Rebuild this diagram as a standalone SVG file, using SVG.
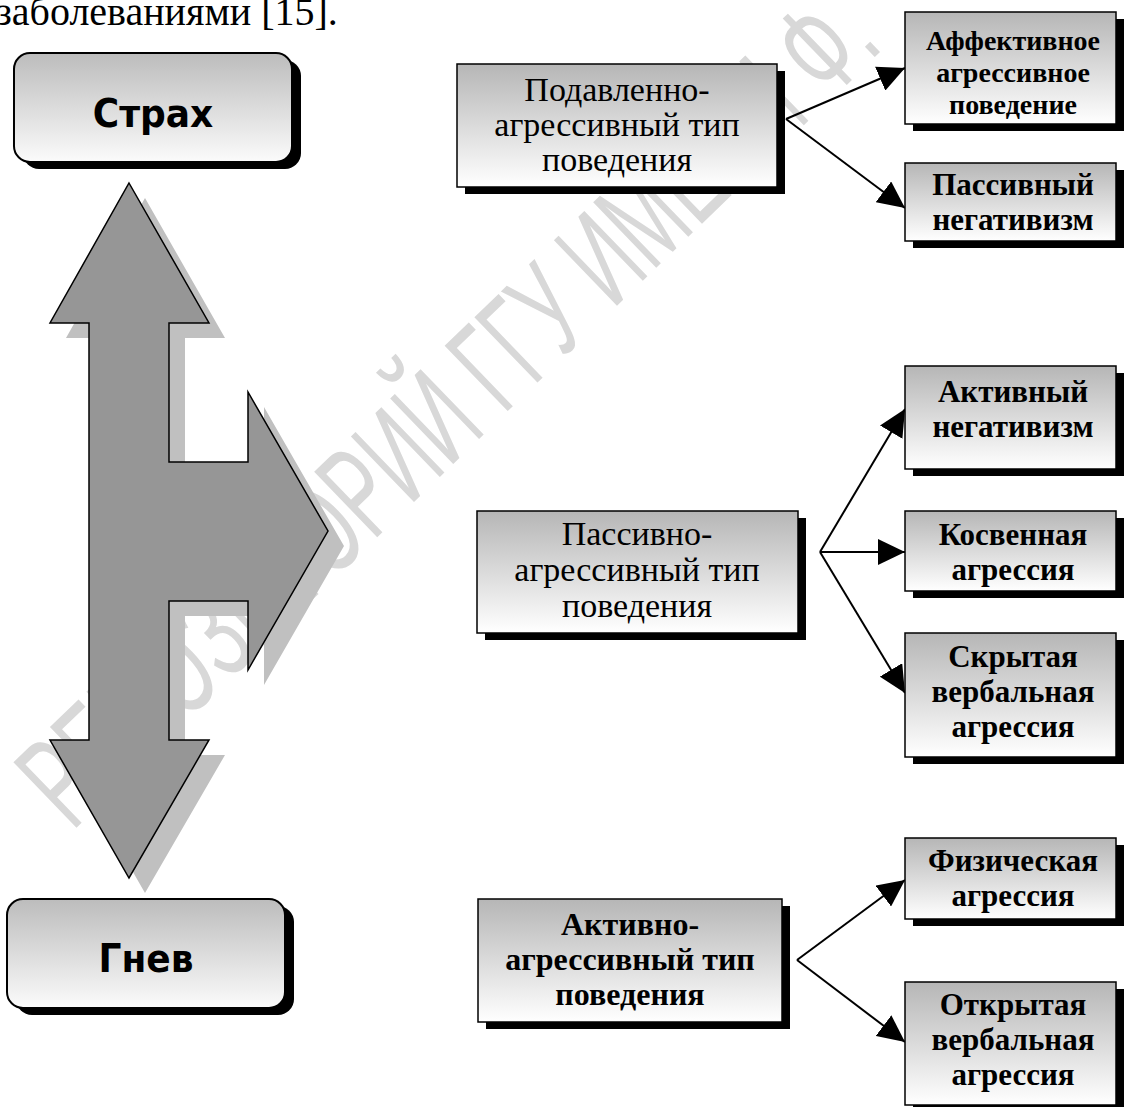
<svg xmlns="http://www.w3.org/2000/svg" width="1125" height="1107" viewBox="0 0 1125 1107">
<defs>
<linearGradient id="gRect" x1="0" y1="0" x2="0" y2="1">
<stop offset="0" stop-color="#b6b6b6"/>
<stop offset="1" stop-color="#ffffff"/>
</linearGradient>
<linearGradient id="gRound" x1="0" y1="0" x2="0" y2="1">
<stop offset="0" stop-color="#bcbcbc"/>
<stop offset="1" stop-color="#fbfbfb"/>
</linearGradient>
<marker id="ah" markerUnits="userSpaceOnUse" markerWidth="27" markerHeight="26" viewBox="0 0 27 26" refX="27" refY="13" orient="auto">
<path d="M0,0 L27,13 L0,26 z" fill="#000"/>
</marker>
<style>
.box{fill:url(#gRect);stroke:#000;stroke-width:1.5}
.rbox{fill:url(#gRound);stroke:#000;stroke-width:2}
.sh{fill:#000}
.reg{font-family:"Liberation Serif","Times New Roman",serif;font-size:34px;text-anchor:middle;fill:#000}
.bold{font-family:"Liberation Serif","Times New Roman",serif;font-size:31px;font-weight:bold;text-anchor:middle;fill:#000}
.boldS{font-family:"Liberation Serif","Times New Roman",serif;font-size:28px;font-weight:bold;text-anchor:middle;fill:#000}
.bold2{font-family:"Liberation Serif","Times New Roman",serif;font-size:32px;font-weight:bold;text-anchor:middle;fill:#000}
.big{font-family:"DejaVu Sans",Verdana,sans-serif;font-size:36px;font-weight:bold;text-anchor:middle;fill:#000}
.conn{stroke:#000;stroke-width:2;fill:none;marker-end:url(#ah)}
.wm{font-family:"Liberation Sans",Arial,sans-serif;font-size:132px;fill:#d8d8d8}
</style>
</defs>
<rect width="1125" height="1107" fill="#fff"/>
<text x="-4" y="25" font-family="Liberation Serif, Times New Roman, serif" font-size="40">заболеваниями [15].</text>
<g id="watermark">
<text class="wm" transform="translate(72,832) rotate(-44)" textLength="1130" lengthAdjust="spacingAndGlyphs">РЕПОЗИТОРИЙ ГГУ ИМЕНИ Ф.</text>
</g>
<g id="bigArrow">
<polygon fill="#c0c0c0" transform="translate(16,15)" points="129,183 209,323 169,323 169,462 248,462 248,392 328,531 248,670 248,601 169,601 169,740 209,740 129,878 50,740 89,740 89,323 50,323"/>
<polygon fill="#969696" stroke="#000" stroke-width="1.5" stroke-linejoin="miter" points="129,183 209,323 169,323 169,462 248,462 248,392 328,531 248,670 248,601 169,601 169,740 209,740 129,878 50,740 89,740 89,323 50,323"/>
</g>
<g id="strakh">
<rect class="sh" x="23" y="60" width="278" height="109" rx="16"/>
<rect class="rbox" x="14" y="53" width="278" height="109" rx="16"/>
<text class="big" transform="translate(153,127) scale(1,1.1)">Страх</text>
</g>
<g id="gnev">
<rect class="sh" x="16" y="906" width="278" height="109" rx="16"/>
<rect class="rbox" x="7" y="899" width="278" height="109" rx="16"/>
<text class="big" transform="translate(146,972) scale(1,1.1)">Гнев</text>
</g>
<g id="connectors">
<line class="conn" x1="786" y1="119" x2="905" y2="68"/>
<line class="conn" x1="786" y1="119" x2="905" y2="208"/>
<line class="conn" x1="820" y1="552" x2="905" y2="409"/>
<line class="conn" x1="820" y1="552" x2="905" y2="552"/>
<line class="conn" x1="820" y1="552" x2="905" y2="693"/>
<line class="conn" x1="797" y1="960" x2="905" y2="880"/>
<line class="conn" x1="797" y1="960" x2="905" y2="1042"/>
</g>
<g id="podavlenno">
<rect class="sh" x="465" y="71" width="320" height="123"/>
<rect class="box" x="457" y="64" width="320" height="123"/>
<text class="reg" x="617" y="101">Подавленно-</text>
<text class="reg" x="617" y="136">агрессивный тип</text>
<text class="reg" x="617" y="171">поведения</text>
</g>
<g id="passivno">
<rect class="sh" x="485" y="518" width="321" height="122"/>
<rect class="box" x="477" y="511" width="321" height="122"/>
<text class="reg" x="637" y="545">Пассивно-</text>
<text class="reg" x="637" y="581">агрессивный тип</text>
<text class="reg" x="637" y="617">поведения</text>
</g>
<g id="aktivno">
<rect class="sh" x="486" y="906" width="304" height="123"/>
<rect class="box" x="478" y="899" width="304" height="123"/>
<text class="bold2" x="630" y="935">Активно-</text>
<text class="bold2" x="630" y="970">агрессивный тип</text>
<text class="bold2" x="630" y="1005">поведения</text>
</g>
<g id="affektivnoe">
<rect class="sh" x="913" y="19" width="211" height="112"/>
<rect class="box" x="905" y="12" width="211" height="112"/>
<text class="boldS" x="1013" y="50">Аффективное</text>
<text class="boldS" x="1013" y="82">агрессивное</text>
<text class="boldS" x="1013" y="114">поведение</text>
</g>
<g id="passivnyi-negativizm">
<rect class="sh" x="913" y="170" width="211" height="78"/>
<rect class="box" x="905" y="163" width="211" height="78"/>
<text class="bold" x="1013" y="195">Пассивный</text>
<text class="bold" x="1013" y="230">негативизм</text>
</g>
<g id="aktivnyi-negativizm">
<rect class="sh" x="913" y="373" width="211" height="103"/>
<rect class="box" x="905" y="366" width="211" height="103"/>
<text class="bold" x="1013" y="402">Активный</text>
<text class="bold" x="1013" y="437">негативизм</text>
</g>
<g id="kosvennaya">
<rect class="sh" x="913" y="518" width="211" height="80"/>
<rect class="box" x="905" y="511" width="211" height="80"/>
<text class="bold" x="1013" y="545">Косвенная</text>
<text class="bold" x="1013" y="580">агрессия</text>
</g>
<g id="skrytaya">
<rect class="sh" x="913" y="640" width="211" height="124"/>
<rect class="box" x="905" y="633" width="211" height="124"/>
<text class="bold" x="1013" y="667">Скрытая</text>
<text class="bold" x="1013" y="702">вербальная</text>
<text class="bold" x="1013" y="737">агрессия</text>
</g>
<g id="fizicheskaya">
<rect class="sh" x="913" y="845" width="211" height="81"/>
<rect class="box" x="905" y="838" width="211" height="81"/>
<text class="bold" x="1013" y="871">Физическая</text>
<text class="bold" x="1013" y="906">агрессия</text>
</g>
<g id="otkrytaya">
<rect class="sh" x="913" y="989" width="211" height="123"/>
<rect class="box" x="905" y="982" width="211" height="123"/>
<text class="bold" x="1013" y="1015">Открытая</text>
<text class="bold" x="1013" y="1050">вербальная</text>
<text class="bold" x="1013" y="1085">агрессия</text>
</g>
</svg>
